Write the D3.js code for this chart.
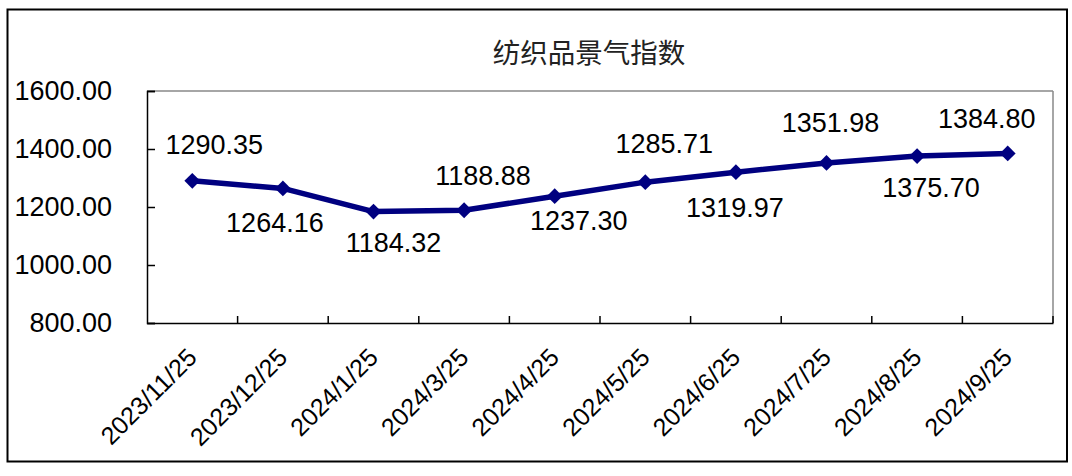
<!DOCTYPE html>
<html>
<head>
<meta charset="utf-8">
<script src="https://cdn.jsdelivr.net/npm/d3@7/dist/d3.min.js"></script>
<style>
html,body{margin:0;padding:0;background:#fff;}
svg{display:block;}
</style>
</head>
<body>
<svg id="chart" width="1072" height="476"></svg>
<script>
const title = "纺织品景气指数";
const categories = ["2023/11/25","2023/12/25","2024/1/25","2024/3/25","2024/4/25","2024/5/25","2024/6/25","2024/7/25","2024/8/25","2024/9/25"];
const values = [1290.35,1264.16,1184.32,1188.88,1237.30,1285.71,1319.97,1351.98,1375.70,1384.80];
const yTicks = [800,1000,1200,1400,1600];

// layout for data labels (pixel offsets from point), not data
const labelDx = [22,-8,20,19,24,19,-1,4,14,-21];
const labelDy = [-36,34,31,-35,24,-39,35,-40,31,-35];

const svg = d3.select("#chart");
const L = 147, R = 1053, T = 91, B = 323;

svg.append("rect").attr("x",0).attr("y",0).attr("width",1072).attr("height",476).attr("fill","#fff");
svg.append("rect").attr("x",7.5).attr("y",9.5).attr("width",1059.5).attr("height",452).attr("fill","none").attr("stroke","#000").attr("stroke-width",2);

const x = d3.scaleBand().domain(categories).range([L,R]).padding(0);
const y = d3.scaleLinear().domain([800,1600]).range([B,T]);

// title
svg.append("text").attr("x",(L+R)/2 - 11).attr("y",63).attr("text-anchor","middle")
  .attr("font-family","'Noto Sans CJK SC', sans-serif").attr("font-size",27.5).attr("fill","#222")
  .text(title);

// plot frame: top & right gray
svg.append("line").attr("x1",L).attr("x2",R).attr("y1",T).attr("y2",T).attr("stroke","#888").attr("stroke-width",1.5);
svg.append("line").attr("x1",R).attr("x2",R).attr("y1",T).attr("y2",B).attr("stroke","#888").attr("stroke-width",1.5);

// y axis
const yAxis = d3.axisLeft(y).tickValues(yTicks).tickSize(-8).tickPadding(35).tickFormat(d3.format(".2f"));
const gy = svg.append("g").attr("transform",`translate(${L},0)`).call(yAxis);
gy.select(".domain").attr("stroke","#000").attr("stroke-width",1.5);
gy.selectAll(".tick line").attr("stroke","#000").attr("stroke-width",1.5);
gy.selectAll(".tick text").attr("font-family","'Liberation Sans', Arial, sans-serif").attr("font-size",27).attr("fill","#000");

// x axis
const xAxis = d3.axisBottom(x).tickSize(0).tickFormat("");
const gx = svg.append("g").attr("transform",`translate(0,${B})`).call(xAxis);
gx.select(".domain").attr("stroke","#000").attr("stroke-width",1.5);
gx.selectAll(".tick").remove();
// boundary ticks
const bounds = categories.slice(1).map(c => x(c)).concat([R]);
gx.selectAll("line.bt").data(bounds).enter().append("line").attr("class","bt")
  .attr("x1",d=>d).attr("x2",d=>d).attr("y1",0).attr("y2",-7).attr("stroke","#000").attr("stroke-width",1.5);
// rotated labels
gx.selectAll("text.xl").data(categories).enter().append("text").attr("class","xl")
  .attr("transform",d=>`translate(${x(d)+x.bandwidth()/2+6},${36}) rotate(-45)`)
  .attr("text-anchor","end")
  .attr("font-family","'Liberation Sans', Arial, sans-serif").attr("font-size",25).attr("fill","#000")
  .text(d=>d);

// line
const line = d3.line().x((d,i)=>x(categories[i])+x.bandwidth()/2).y(d=>y(d));
svg.append("path").datum(values).attr("d",line).attr("fill","none").attr("stroke","#000080").attr("stroke-width",5.5).attr("stroke-linejoin","round");

// markers
svg.selectAll("path.mk").data(values).enter().append("path").attr("class","mk")
  .attr("transform",(d,i)=>`translate(${x(categories[i])+x.bandwidth()/2},${y(d)}) rotate(45)`)
  .attr("d",d3.symbol().type(d3.symbolSquare).size(125)).attr("fill","#000080");

// data labels
svg.selectAll("text.dl").data(values).enter().append("text").attr("class","dl")
  .attr("x",(d,i)=>x(categories[i])+x.bandwidth()/2+labelDx[i])
  .attr("y",(d,i)=>y(d)+labelDy[i]+9.5)
  .attr("text-anchor","middle")
  .attr("font-family","'Liberation Sans', Arial, sans-serif").attr("font-size",27).attr("fill","#000")
  .text(d=>d3.format(".2f")(d));
</script>
</body>
</html>
